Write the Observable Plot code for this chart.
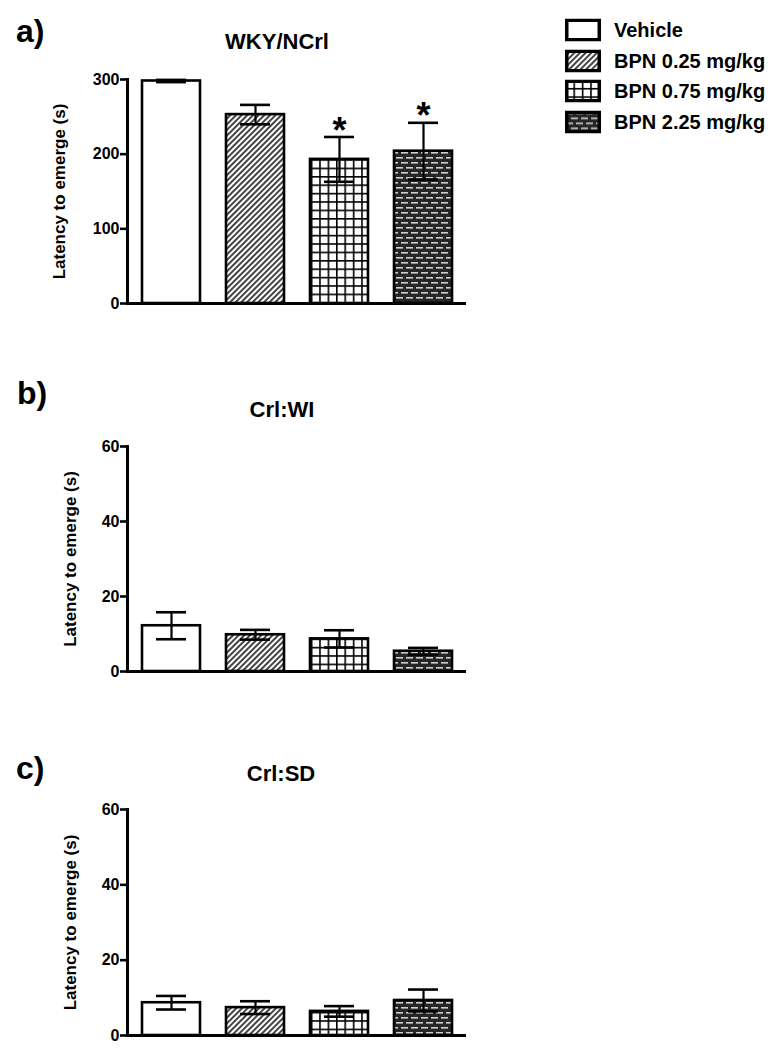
<!DOCTYPE html>
<html>
<head>
<meta charset="utf-8">
<script src="https://cdn.jsdelivr.net/npm/d3@7"></script>
<script src="https://cdn.jsdelivr.net/npm/@observablehq/plot@0.6"></script>
<style>
  body { margin: 0; background: #fff; font-family: "Liberation Sans", Arial, sans-serif; color: #000; }
  #page { position: relative; width: 782px; height: 1049px; overflow: hidden; background: #fff; }
  .abs { position: absolute; }
  .plab { font-weight: bold; font-size: 32px; line-height: 1; transform: translateY(-50%); }
  .title { font-weight: bold; font-size: 22px; line-height: 1; transform: translate(-50%, -50%); white-space: nowrap; }
  .legrow { position: absolute; left: 565px; display: flex; align-items: center; transform: translateY(-50%); }
  .legrow span { font-weight: bold; font-size: 20px; margin-left: 13px; white-space: nowrap; }
  .chart svg { display: block; overflow: visible; }
</style>
</head>
<body>
<svg width="0" height="0" style="position:absolute">
  <defs>
    <pattern id="p-vehicle" width="10" height="10" patternUnits="userSpaceOnUse">
      <rect width="10" height="10" fill="#fff"/>
    </pattern>
    <pattern id="p-hatch" width="4" height="4" patternUnits="userSpaceOnUse" patternTransform="rotate(45)">
      <rect width="4" height="4" fill="#fff"/>
      <rect width="1.9" height="4" fill="#3a3a3a"/>
    </pattern>
    <pattern id="p-grid" width="8.4" height="8.4" patternUnits="userSpaceOnUse">
      <rect width="8.4" height="8.4" fill="#fff"/>
      <rect width="8.4" height="1.6" fill="#000"/>
      <rect width="1.6" height="8.4" fill="#000"/>
    </pattern>
    <pattern id="p-brick" width="10" height="10" patternUnits="userSpaceOnUse">
      <rect width="10" height="10" fill="#262626"/>
      <rect x="1" y="2" width="7" height="1.6" fill="#cfcfcf"/>
      <rect x="6" y="7" width="4" height="1.6" fill="#cfcfcf"/>
      <rect x="0" y="7" width="3" height="1.6" fill="#cfcfcf"/>
    </pattern>
  </defs>
</svg>
<div id="page"></div>
<script>
// ---- data ----
const groups = ["Vehicle", "BPN 0.25 mg/kg", "BPN 0.75 mg/kg", "BPN 2.25 mg/kg"];
const strains = ["WKY/NCrl", "Crl:WI", "Crl:SD"];
const panelLetters = ["a)", "b)", "c)"];
const yLabel = "Latency to emerge (s)";

const wkyMean = [298, 253, 193, 204];
const wkySem  = [1.5, 13, 30, 38];
const wkySig  = [false, false, true, true];

const wiMean = [12.2, 9.8, 8.7, 5.4];
const wiSem  = [3.6, 1.3, 2.3, 0.9];

const sdMean = [8.7, 7.4, 6.4, 9.3];
const sdSem  = [1.8, 1.7, 1.4, 2.9];

const wkyTicks = [0, 100, 200, 300];
const smallTicks = [0, 20, 40, 60];

// ---- styles ----
const fills = ["url(#p-vehicle)", "url(#p-hatch)", "url(#p-grid)", "url(#p-brick)"];
const page = document.getElementById("page");

function addDiv(cls, text, left, top) {
  const d = document.createElement("div");
  d.className = "abs " + cls;
  d.textContent = text;
  d.style.left = left + "px";
  d.style.top = top + "px";
  page.appendChild(d);
}

function panel({means, sems, sig, ymax, ticks, top, height, marginTop, marginBottom, labelDx}) {
  const data = groups.map((g, i) => ({group: g, mean: means[i], sem: sems[i], sig: sig ? sig[i] : false, fill: fills[i]}));
  const chart = Plot.plot({
    width: 480,
    height,
    marginLeft: 127,
    marginRight: 14,
    marginTop,
    marginBottom,
    style: {color: "black", background: "transparent", fontFamily: "Liberation Sans, Arial, sans-serif"},
    x: {type: "band", domain: groups, paddingInner: 0.31, paddingOuter: 0.166, axis: null},
    y: {domain: [0, ymax]},
    color: {type: "identity"},
    marks: [
      Plot.barY(data, {x: "group", y: "mean", fill: "fill", stroke: "black", strokeWidth: 2.6}),
      Plot.ruleX(data, {x: "group", y1: d => d.mean - d.sem, y2: d => d.mean + d.sem, stroke: "black", strokeWidth: 2.2}),
      Plot.tickY(data, {x: "group", y: d => d.mean + d.sem, stroke: "black", strokeWidth: 2.6, inset: 14}),
      Plot.tickY(data, {x: "group", y: d => d.mean - d.sem, stroke: "black", strokeWidth: 2.6, inset: 14}),
      Plot.text(data.filter(d => d.sig), {x: "group", y: d => d.mean + d.sem, text: () => "*", dy: -6, fontSize: 36, fontWeight: "bold", fill: "black"}),
      Plot.ruleY([0], {stroke: "black", strokeWidth: 3}),
      Plot.frame({anchor: "left", stroke: "black", strokeWidth: 3}),
      Plot.axisY({ticks, tickSize: 7, tickPadding: 1, fontSize: 16, fontWeight: "bold", strokeWidth: 2.6, label: null, tickFormat: d => String(d)}),
      Plot.text([yLabel], {frameAnchor: "left", textAnchor: "middle", lineAnchor: "middle", dx: labelDx, rotate: -90, fontSize: 17, fontWeight: "bold", fill: "black"})
    ]
  });
  const wrap = document.createElement("div");
  wrap.className = "abs chart";
  wrap.style.left = "0px";
  wrap.style.top = top + "px";
  wrap.appendChild(chart);
  page.appendChild(wrap);
}

// panel a
panel({means: wkyMean, sems: wkySem, sig: wkySig, ymax: 300, ticks: wkyTicks, top: 50, height: 278, marginTop: 29, marginBottom: 25, labelDx: -68});
// panel b
panel({means: wiMean, sems: wiSem, sig: null, ymax: 60, ticks: smallTicks, top: 420, height: 276, marginTop: 26, marginBottom: 25, labelDx: -57});
// panel c
panel({means: sdMean, sems: sdSem, sig: null, ymax: 60, ticks: smallTicks, top: 785, height: 264, marginTop: 24, marginBottom: 14, labelDx: -57});

// titles and letters
addDiv("plab", panelLetters[0], 16, 31);
addDiv("plab", panelLetters[1], 17, 393);
addDiv("plab", panelLetters[2], 16, 768);
addDiv("title", strains[0], 277, 42);
addDiv("title", strains[1], 282, 410);
addDiv("title", strains[2], 281, 774);

// legend
const legendY = [30, 60.5, 91, 121.5];
groups.forEach((g, i) => {
  const row = document.createElement("div");
  row.className = "legrow";
  row.style.top = legendY[i] + "px";
  row.innerHTML = `<svg width="36" height="23"><rect x="1.75" y="1.75" width="32.5" height="19.5" fill="${fills[i]}" stroke="black" stroke-width="3.5"/></svg><span>${g}</span>`;
  page.appendChild(row);
});
</script>
</body>
</html>
